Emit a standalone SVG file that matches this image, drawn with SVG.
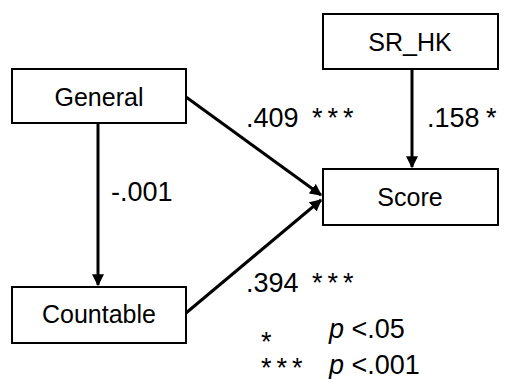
<svg xmlns="http://www.w3.org/2000/svg" width="507" height="379" viewBox="0 0 507 379">
<style>
.box{fill:#fff;stroke:#000;stroke-width:2}
.t{font-family:"Liberation Sans",Arial,sans-serif;font-size:25px;fill:#000}
.l{font-size:27px}
.s{letter-spacing:5px}
.c{text-anchor:middle}
.edge{stroke:#000;stroke-width:3;fill:none}
</style>
<defs>
<marker id="ah" viewBox="0 0 10 10" refX="9" refY="5" markerWidth="4" markerHeight="4" markerUnits="strokeWidth" orient="auto">
<path d="M0,0 L10,5 L0,10 Z" fill="#000"/>
</marker>
</defs>
<rect width="507" height="379" fill="#fff"/>
<g id="connectors">
<line class="edge" x1="98" y1="123" x2="98" y2="285" marker-end="url(#ah)"/>
<line class="edge" x1="412" y1="69" x2="412" y2="167" marker-end="url(#ah)"/>
<line class="edge" x1="186" y1="97" x2="321" y2="195" marker-end="url(#ah)"/>
<line class="edge" x1="186" y1="313" x2="321" y2="200" marker-end="url(#ah)"/>
</g>
<g id="General"><rect class="box" x="12" y="69" width="174" height="54"/><text class="t c" x="99" y="106">General</text></g>
<g id="SR_HK"><rect class="box" x="323" y="14" width="175" height="55"/><text class="t c" x="410" y="51">SR_HK</text></g>
<g id="Score"><rect class="box" x="323" y="169" width="175" height="56"/><text class="t c" x="410" y="206">Score</text></g>
<g id="Countable"><rect class="box" x="12" y="287" width="174" height="56"/><text class="t c" x="99" y="323">Countable</text></g>
<g id="labels">
<text class="t l" x="246" y="127">.409 <tspan class="s" x="312">***</tspan></text>
<text class="t l" x="427" y="127">.158 <tspan x="486">*</tspan></text>
<text class="t l" x="111" y="201">-.001</text>
<text class="t l" x="246" y="292">.394 <tspan class="s" x="312">***</tspan></text>
<text class="t l" x="261" y="351">*</text>
<text class="t l" x="329" y="338"><tspan font-style="italic">p</tspan> &lt;.05</text>
<text class="t l s" x="261" y="377">***</text>
<text class="t l" x="329" y="374"><tspan font-style="italic">p</tspan> &lt;.001</text>
</g>
</svg>
